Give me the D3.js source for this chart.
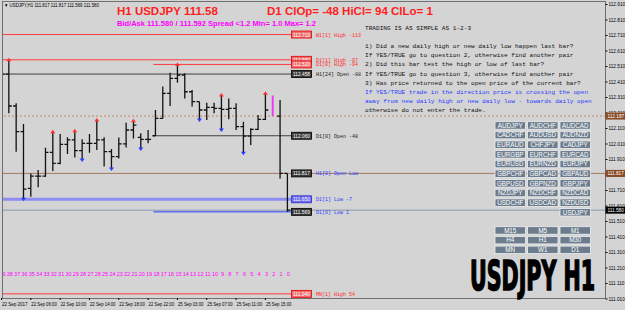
<!DOCTYPE html>
<html>
<head>
<meta charset="utf-8">
<script src="https://cdn.jsdelivr.net/npm/d3@7/dist/d3.min.js"></script>
<style>
body{margin:0;background:#d4d4d4;}
svg{display:block;font-family:"Liberation Sans",Arial,sans-serif;}
</style>
</head>
<body>
<div id="chart"></div>
<script>
// H1 bars, oldest first (40 bars)
var barOpen  = [112.458,112.458,112.252,112.086,111.721,111.800,111.800,111.953,111.882,112.005,
                112.033,111.964,112.011,112.011,112.033,111.957,111.925,112.007,112.097,112.050,
                112.037,112.060,112.172,112.334,112.430,112.452,112.344,112.280,112.226,112.243,
                112.237,112.230,112.237,112.119,112.058,112.101,112.166,112.226,112.187,111.817]
var barHigh  = [112.480,112.550,112.269,112.136,111.817,111.839,111.983,112.086,112.071,112.050,
                112.093,112.037,112.071,112.162,112.050,111.975,112.048,112.144,112.157,112.076,
                112.097,112.226,112.377,112.467,112.520,112.463,112.355,112.280,112.273,112.273,
                112.323,112.301,112.269,112.151,112.108,112.194,112.334,112.319,112.291,111.817]
var barLow   = [112.424,112.205,111.957,111.650,111.667,111.727,111.796,111.833,111.876,111.942,
                111.919,111.904,111.951,111.968,111.861,111.846,111.914,111.985,112.043,111.975,
                112.011,112.058,112.172,112.252,112.402,112.301,112.248,112.162,112.162,112.205,
                112.097,112.166,112.097,111.947,112.000,112.097,112.162,112.187,111.785,111.569]
var barClose = [112.458,112.252,112.086,111.716,111.800,111.800,111.953,111.882,112.005,112.033,
                111.964,112.011,112.011,112.033,111.957,111.925,112.007,112.097,112.129,112.037,
                112.037,112.172,112.334,112.430,112.452,112.344,112.280,112.226,112.243,112.237,
                112.230,112.237,112.119,112.058,112.101,112.166,112.226,112.187,111.817,111.580]
var highlightBar = 37
var upFractals = [1,7,10,13,18,24,30,36]
var downFractals = [3,11,15,19,27,30,33]

// price levels drawn by the indicator
var levelNames  = ["W1[1] High","D1[1] High","D1[0] High","H1[24] Open","D1[0] Open","H1[0] Open Low","D1[1] Low","D1[0] Low","MN[1] High"]
var levelPrices = [112.713,112.550,112.520,112.458,112.060,111.817,111.650,111.569,111.040]
var levelKinds  = ["high","high","high","open","open","openlow","low","low","high"]
var levelToday  = [false,false,true,false,true,false,false,true,false]
var refPrice = 112.187
var bidPrice = 111.580

var priceTicks = ["112.910","112.810","112.710","112.610","112.510","112.410","112.310","112.210","112.110","112.010",
                  "111.910","111.810","111.710","111.610","111.510","111.410","111.310","111.210","111.110","111.010"]
var dateBars = [0,4,8,12,16,20,24,28,32,36]
var dateLabels = ["22 Sep 2017","22 Sep 06:00","22 Sep 10:00","22 Sep 14:00","22 Sep 18:00",
                  "22 Sep 22:00","25 Sep 03:00","25 Sep 07:00","25 Sep 11:00","25 Sep 15:00"]

var pairRows = [["AUDJPY","AUDCHF","AUDCAD"],["CADCHF","AUDUSD","AUDNZD"],["EURAUD","CHFJPY","CADJPY"],
                ["EURGBP","EURCHF","EURCAD"],["EURUSD","EURNZD","EURJPY"],["GBPCHF","GBPCAD","GBPAUD"],
                ["GBPUSD","GBPNZD","GBPJPY"],["NZDJPY","NZDCHF","NZDCAD"],["USDCHF","USDCAD","NZDUSD"],
                ["","","USDJPY"]]
var tfRows = [["M15","M5","M1"],["H4","H1","M30"],["MN","W1","D1"]]

var rules = ["TRADING IS AS SIMPLE AS 1-2-3","",
  "1) Did a new daily high or new daily low happen last bar?",
  "If YES/TRUE go to question 2, otherwise find another pair",
  "2) Did this bar test the high or low of last bar?",
  "If YES/TRUE go to question 3, otherwise find another pair",
  "3) Has price returned to the open price of the current bar?",
  "If YES/TRUE trade in the direction price is crossing the open",
  "away from new daily high or new daily low - towards daily open",
  "otherwise do not enter the trade."]
var rulesBlue = [7,8]

var W = 625, H = 310
var plot = {left: 2, right: 605, top: 1, bottom: 298}

var svg = d3.select("#chart").append("svg")
    .attr("width", W).attr("height", H)
svg.append("rect").attr("width", W).attr("height", H).attr("fill", "#d4d4d4")

svg.append("clipPath").attr("id", "plotclip")
  .append("rect")
    .attr("x", plot.left + 0.5).attr("y", plot.top)
    .attr("width", plot.right - plot.left - 0.5).attr("height", plot.bottom - plot.top)

var y = d3.scaleLinear().domain([111.010, 112.910]).range([298.5, 4])
var x = d3.scaleLinear().domain([0, 39]).range([1.5, 287.4])
var fmt = d3.format(".3f")
var last = barClose.length - 1

var g = svg.append("g").attr("clip-path", "url(#plotclip)")

// full-width dotted reference line
g.append("line").attr("x1", 0).attr("x2", plot.right)
  .attr("y1", y(refPrice)).attr("y2", y(refPrice))
  .attr("stroke", "#c0886a").attr("stroke-dasharray", "2,2")

// indicator levels
var lineColor = {high: "#ff3a3a", open: "#404040", openlow: "#a57a62", low: "#2a3cff"}
var textColor = {high: "#ff2a2a", open: "#202020", openlow: "#2a3cff", low: "#2a3cff"}
levelPrices.forEach(function(p, i){
    var k = levelKinds[i]
    var x1 = levelToday[i] ? x(21) - 2 : 0
    var x2 = k == "openlow" ? plot.right : 291
    var col = lineColor[k], sw = 1
    if (levelNames[i] == "D1[1] Low") { col = "#8c8cf2"; sw = 3 }
    g.append("line").attr("x1", x1).attr("x2", x2)
      .attr("y1", y(p)).attr("y2", y(p))
      .attr("stroke", col).attr("stroke-width", sw)
})
g.append("line").attr("x1", 0).attr("x2", plot.right)
  .attr("y1", y(bidPrice)).attr("y2", y(bidPrice))
  .attr("stroke", "#8a9aae")

// OHLC bars
barClose.forEach(function(c, i){
    var bx = x(i)
    var col = i == highlightBar ? "#f03cf0" : "#111"
    var bar = g.append("g").attr("stroke", col).attr("stroke-width", i == highlightBar ? 2 : 1.3)
    bar.append("line").attr("x1", bx).attr("x2", bx).attr("y1", y(barHigh[i])).attr("y2", y(barLow[i]))
    if (i != highlightBar) {
        bar.append("line").attr("x1", bx - 3).attr("x2", bx).attr("y1", y(barOpen[i])).attr("y2", y(barOpen[i]))
        bar.append("line").attr("x1", bx).attr("x2", bx + 3).attr("y1", y(c)).attr("y2", y(c))
    }
})

// fractal arrows
upFractals.forEach(function(i){
    var ax = x(i), ay = y(barHigh[i]) - 2
    g.append("path").attr("d", "M" + ax + "," + ay + "l-2.5,3.5h5z").attr("fill", "#ff3030")
})
downFractals.forEach(function(i){
    var ax = x(i), ay = y(barLow[i]) + 2
    g.append("path").attr("d", "M" + ax + "," + ay + "l-2.5,-3.5h5z").attr("fill", "#2a3cff")
})

// level boxes and texts
var boxFill = {high: "#f07070", open: "#3a3a3a", openlow: "#3a3a3a", low: "#3a3a3a"}
var boxStroke = {high: "#e00000", open: "#000", openlow: "#000", low: "#000"}
levelPrices.forEach(function(p, i){
    var k = levelKinds[i]
    var fill = boxFill[k], stroke = boxStroke[k]
    if (levelNames[i] == "D1[1] Low") { fill = "#6a6aee"; stroke = "#3030d0" }
    var yy = y(p)
    g.append("rect").attr("x", 291.5).attr("y", yy - 3.5).attr("width", 20).attr("height", 7)
      .attr("fill", fill).attr("stroke", stroke).attr("stroke-width", 0.8)
    g.append("text").attr("x", 293).attr("y", yy + 2)
      .attr("font-size", 5.5).attr("fill", "#fff")
      .attr("textLength", 17).attr("lengthAdjust", "spacingAndGlyphs").text(fmt(p))
    var diff = Math.round((bidPrice - p) * 100)
    var label = levelNames[i] + (k == "openlow" ? "" : "  " + diff)
    g.append("text").attr("x", 316).attr("y", yy + 2)
      .attr("font-family", "'Liberation Mono',monospace")
      .attr("font-size", 5).attr("fill", textColor[k]).text(label)
})

// bar countdown
barClose.forEach(function(c, i){
    g.append("text").attr("x", x(i) + 1).attr("y", 275.5).attr("text-anchor", "middle")
      .attr("font-size", 5.5).attr("fill", "#ff00ff").text(last - i)
})

// frame
svg.append("rect").attr("x", plot.left + 0.5).attr("y", plot.top + 0.5)
  .attr("width", plot.right - plot.left).attr("height", plot.bottom - plot.top)
  .attr("fill", "none").attr("stroke", "#707070")

// price axis
var yAxis = d3.axisRight(y).tickValues(priceTicks.map(Number)).tickFormat(fmt).tickSize(2).tickPadding(1)
var ya = svg.append("g").attr("transform", "translate(" + (plot.right + 0.5) + ",0)").call(yAxis)
ya.select(".domain").remove()
ya.selectAll("text").attr("font-size", 4.7).attr("fill", "#000")
ya.selectAll("line").attr("stroke", "#000")

function axisBox(p, fill){
    svg.append("rect").attr("x", 605.5).attr("y", y(p) - 3.5).attr("width", 19.5).attr("height", 7).attr("fill", fill)
    svg.append("text").attr("x", 607.5).attr("y", y(p) + 1.8).attr("font-size", 4.7).attr("fill", "#fff").text(fmt(p))
}
axisBox(refPrice, "#8a4a26")
axisBox(levelPrices[5], "#8a4a26")
axisBox(bidPrice, "#000")

// time axis
dateBars.forEach(function(b, i){
    svg.append("line").attr("x1", x(b)).attr("x2", x(b)).attr("y1", plot.bottom).attr("y2", plot.bottom + 2).attr("stroke", "#000")
    svg.append("text").attr("x", x(b) + 0.5).attr("y", 306).attr("font-size", 5).attr("fill", "#000")
      .attr("textLength", 25.5).attr("lengthAdjust", "spacingAndGlyphs").text(dateLabels[i])
})

// header texts
svg.append("text").attr("x", 4).attr("y", 7).attr("font-size", 5).attr("fill", "#000")
  .attr("textLength", 95).attr("lengthAdjust", "spacingAndGlyphs")
  .text("\u25BC USDJPY,H1  " + [barOpen[last], barHigh[last], barLow[last], barClose[last]].map(fmt).join(" "))
svg.append("text").attr("x", 117).attr("y", 15).attr("font-size", 11.5).attr("font-weight", "bold")
  .attr("fill", "#ff1e1e").text("H1 USDJPY " + bidPrice.toFixed(2))
var d1Open = levelPrices[4], d1High = levelPrices[2], d1Low = levelPrices[7]
svg.append("text").attr("x", 267).attr("y", 15).attr("font-size", 11.5).attr("font-weight", "bold")
  .attr("fill", "#ff1e1e")
  .text("D1 ClOp= " + Math.round((bidPrice - d1Open) * 100) + " HiCl= " + Math.round((d1High - bidPrice) * 100) +
        " ClLo= " + Math.round((bidPrice - d1Low) * 100))
svg.append("text").attr("x", 117).attr("y", 26).attr("font-size", 7).attr("font-weight", "bold")
  .attr("fill", "#ff00ff").attr("textLength", 199).attr("lengthAdjust", "spacingAndGlyphs")
  .text("Bid/Ask 111.580 / 111.592  Spread  <1.2  Min= 1.0  Max= 1.2")

// rules text block
var ruleY = [29.5, 38.5, 48, 57.2, 66.4, 75.6, 84.8, 94, 103.2, 112.4]
rules.forEach(function(t, i){
    svg.append("text").attr("x", 365).attr("y", ruleY[i])
      .attr("font-family", "'Liberation Mono','DejaVu Sans Mono',monospace").attr("font-size", 6.1)
      .attr("fill", rulesBlue.indexOf(i) >= 0 ? "#2a3cff" : "#111").text(t)
})

// symbol buttons
var btnX = [495, 527.5, 560]
function buttons(rows, top, step){
    rows.forEach(function(row, r){
        row.forEach(function(name, c){
            if (!name) return
            var by = top + r * step
            svg.append("rect").attr("x", btnX[c]).attr("y", by).attr("width", 30.5).attr("height", 7.5)
              .attr("fill", "#6c7c8d").attr("stroke", "#eef0f2").attr("stroke-width", 0.8)
            svg.append("text").attr("x", btnX[c] + 15.25).attr("y", by + 6).attr("text-anchor", "middle")
              .attr("font-size", 6.3).attr("fill", "#fff").text(name)
        })
    })
}
buttons(pairRows, 121.7, 9.65)
buttons(tfRows, 226.7, 9.7)

// big symbol caption (narrow font, stretched vertically)
svg.append("text")
  .attr("transform", "translate(470,290) scale(1,1.75)")
  .attr("font-family", "'Liberation Sans Narrow','DejaVu Sans Condensed',sans-serif")
  .attr("font-size", 23).attr("font-weight", "bold").attr("fill", "#000")
  .attr("stroke", "#000").attr("stroke-width", 0.9)
  .attr("textLength", 125).attr("lengthAdjust", "spacingAndGlyphs")
  .text("USDJPY H1")
</script>
</body>
</html>
